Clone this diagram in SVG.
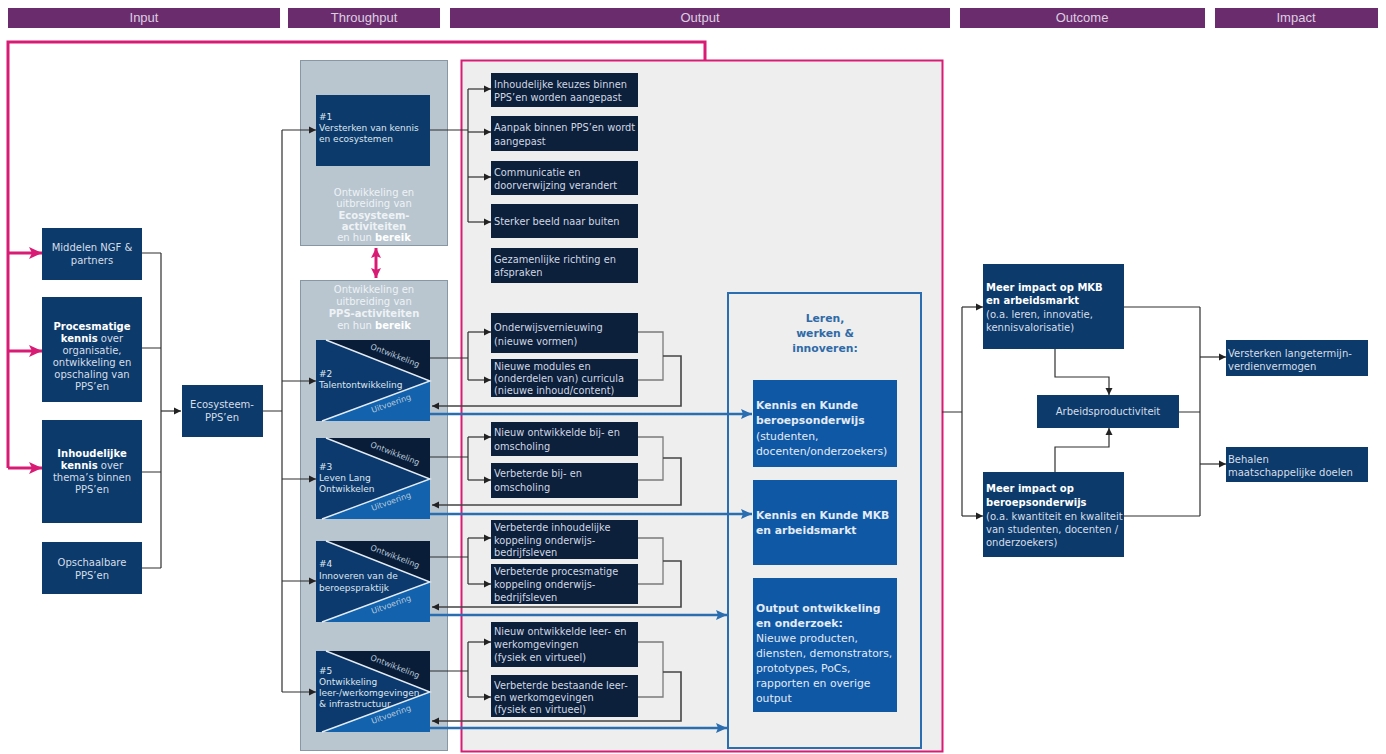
<svg xmlns="http://www.w3.org/2000/svg" width="1386" height="754" viewBox="0 0 1386 754">
<defs>
<marker id="ah" markerUnits="userSpaceOnUse" markerWidth="8" markerHeight="8" refX="7" refY="4" orient="auto"><path d="M0,0.5 L7,4 L0,7.5 z" fill="#222"/></marker>
<marker id="ahp" markerUnits="userSpaceOnUse" markerWidth="14" markerHeight="12" refX="13" refY="6" orient="auto-start-reverse"><path d="M0,0 L13,6 L0,12 L3,6 z" fill="#d81b74"/></marker>
<marker id="ahp2" markerUnits="userSpaceOnUse" markerWidth="11" markerHeight="10" refX="10" refY="5" orient="auto-start-reverse"><path d="M0,0 L10,5 L0,10 L2,5 z" fill="#d81b74"/></marker>
<marker id="ahb" markerUnits="userSpaceOnUse" markerWidth="12" markerHeight="10" refX="11" refY="5" orient="auto"><path d="M0,0 L11,5 L0,10 L2,5 z" fill="#2a6db0"/></marker>
<style>
.hdr{fill:#6b2c6e}
.htx{font-family:"Liberation Sans",Arial,sans-serif;font-size:13px;fill:#dccfe0;text-anchor:middle}
.t{font-family:"DejaVu Sans",Verdana,sans-serif;font-size:10px}
.c{text-anchor:middle}
.b{font-weight:bold;fill:#ffffff}
.lt{fill:#d6dee8}
.navy{fill:#0c3a6b}
.dk{fill:#0c1f3b}
.bl{fill:#0f58a6}
.gray{fill:#b9c6d0;stroke:#8797a3;stroke-width:1}
.ln{fill:none;stroke:#2f2f2f;stroke-width:1.2}
.br{fill:none;stroke:#7a7a7a;stroke-width:1.3}
.lp{fill:none;stroke:#444;stroke-width:1.6}
.pk{fill:none;stroke:#d81b74;stroke-width:3}
.bln{fill:none;stroke:#2a6db0;stroke-width:2.5}
.tri-d{fill:#0a1d38}
.tri-m{fill:#0c3a6e}
.tri-b{fill:#1262ad}
.diag{fill:none;stroke:#e4edf5;stroke-width:1.4}
.hs{font-family:"DejaVu Sans",Verdana,sans-serif;font-size:9px;fill:#dfe7ef}
.rot{font-family:"DejaVu Sans",Verdana,sans-serif;font-size:8px;fill:#b9c9d9;text-anchor:middle}
.gt{font-family:"DejaVu Sans",Verdana,sans-serif;font-size:10px;fill:#eef2f5;text-anchor:middle}
.ot{font-family:"DejaVu Sans",Verdana,sans-serif;font-size:9.8px;fill:#d0d8e2}
.lr{font-family:"DejaVu Sans",Verdana,sans-serif;font-size:10.8px;fill:#e3ebf4}
</style>
</defs>
<rect width="1386" height="754" fill="#ffffff"/>

<g id="headers">
<rect class="hdr" x="8" y="8" width="272" height="20"/>
<text class="htx" x="144" y="22">Input</text>
<rect class="hdr" x="288" y="8" width="152" height="20"/>
<text class="htx" x="364" y="22">Throughput</text>
<rect class="hdr" x="450" y="8" width="500" height="20"/>
<text class="htx" x="700" y="22">Output</text>
<rect class="hdr" x="960" y="8" width="245" height="20"/>
<text class="htx" x="1082" y="22">Outcome</text>
<rect class="hdr" x="1215" y="8" width="163" height="20"/>
<text class="htx" x="1296" y="22">Impact</text>
</g>

<g id="containers">
<rect x="461.5" y="60.5" width="481" height="691" fill="#eeeeee" stroke="#d81b74" stroke-width="2"/>
<rect class="gray" x="300.5" y="60.5" width="147" height="185"/>
<rect class="gray" x="300.5" y="280.5" width="147" height="470"/>
<rect x="728" y="293" width="193" height="455" fill="none" stroke="#2a6db0" stroke-width="2"/>
</g>

<g id="connectors">
<path class="pk" d="M705,60 V42 H8 V468"/>
<path class="pk" d="M8,253 H42" marker-end="url(#ahp)"/>
<path class="pk" d="M8,351 H42" marker-end="url(#ahp)"/>
<path class="pk" d="M8,468 H42" marker-end="url(#ahp)"/>
<path class="pk" d="M376,248 V278" stroke-width="2.5" marker-start="url(#ahp2)" marker-end="url(#ahp2)"/>

<path class="ln" d="M142,253 H161 M142,348 H161 M142,472 H161 M142,568 H161 M161,253 V568"/>
<path class="ln" d="M161,411 H181" marker-end="url(#ah)"/>
<path class="ln" d="M263,411 H282 M282,130 V692"/>
<path class="ln" d="M282,130 H316" marker-end="url(#ah)"/>
<path class="ln" d="M282,381 H316" marker-end="url(#ah)"/>
<path class="ln" d="M282,479 H316" marker-end="url(#ah)"/>
<path class="ln" d="M282,581 H316" marker-end="url(#ah)"/>
<path class="ln" d="M282,692 H316" marker-end="url(#ah)"/>

<path class="ln" d="M430,130 H468 M468,89 V222"/>
<path class="ln" d="M468,89 H491" marker-end="url(#ah)"/>
<path class="ln" d="M468,132 H491" marker-end="url(#ah)"/>
<path class="ln" d="M468,177 H491" marker-end="url(#ah)"/>
<path class="ln" d="M468,222 H491" marker-end="url(#ah)"/>

<path class="ln" d="M430,358 H468 M468,332 V380"/>
<path class="ln" d="M468,332 H491" marker-end="url(#ah)"/>
<path class="ln" d="M468,380 H491" marker-end="url(#ah)"/>
<path class="br" d="M638,332 H663 V380 H638"/>
<path class="lp" d="M663,356 H681 V406 H432" marker-end="url(#ah)"/>

<path class="ln" d="M430,457 H468 M468,437 V480"/>
<path class="ln" d="M468,437 H491" marker-end="url(#ah)"/>
<path class="ln" d="M468,480 H491" marker-end="url(#ah)"/>
<path class="br" d="M638,437 H663 V480 H638"/>
<path class="lp" d="M663,458 H681 V505 H432" marker-end="url(#ah)"/>

<path class="ln" d="M430,557 H468 M468,538 V584"/>
<path class="ln" d="M468,538 H491" marker-end="url(#ah)"/>
<path class="ln" d="M468,584 H491" marker-end="url(#ah)"/>
<path class="br" d="M638,538 H663 V584 H638"/>
<path class="lp" d="M663,561 H681 V607 H432" marker-end="url(#ah)"/>

<path class="ln" d="M430,671 H468 M468,642 V697"/>
<path class="ln" d="M468,642 H491" marker-end="url(#ah)"/>
<path class="ln" d="M468,697 H491" marker-end="url(#ah)"/>
<path class="br" d="M638,642 H663 V697 H638"/>
<path class="lp" d="M663,672 H681 V721 H432" marker-end="url(#ah)"/>

<path class="bln" d="M430,414 H752" marker-end="url(#ahb)"/>
<path class="bln" d="M430,514 H752" marker-end="url(#ahb)"/>
<path class="bln" d="M430,615 H727" marker-end="url(#ahb)"/>
<path class="bln" d="M430,728 H727" marker-end="url(#ahb)"/>

<path class="ln" d="M942,412 H962 M962,307 V516"/>
<path class="ln" d="M962,307 H983" marker-end="url(#ah)"/>
<path class="ln" d="M962,516 H983" marker-end="url(#ah)"/>
<path class="ln" d="M1055,349 V377 H1109 V395" marker-end="url(#ah)"/>
<path class="ln" d="M1055,472 V447 H1109 V428" marker-end="url(#ah)"/>
<path class="ln" d="M1124,307 H1200 M1179,412 H1200 M1124,516 H1200 M1200,307 V516"/>
<path class="ln" d="M1200,357 H1226" marker-end="url(#ah)"/>
<path class="ln" d="M1200,464 H1226" marker-end="url(#ah)"/>
</g>

<g id="in-middelen">
<rect class="navy" x="42" y="228" width="100" height="52"/>
<text class="t c lt" x="92" y="251">Middelen NGF &amp;</text>
<text class="t c lt" x="92" y="264">partners</text>
</g>
<g id="in-procesmatige">
<rect class="navy" x="42" y="297" width="100" height="105"/>
<text class="t c b" x="92" y="330">Procesmatige</text>
<text class="t c lt" x="92" y="342"><tspan class="b">kennis</tspan> over</text>
<text class="t c lt" x="92" y="354">organisatie,</text>
<text class="t c lt" x="92" y="366">ontwikkeling en</text>
<text class="t c lt" x="92" y="378">opschaling van</text>
<text class="t c lt" x="92" y="390">PPS’en</text>
</g>
<g id="in-inhoudelijke">
<rect class="navy" x="42" y="420" width="100" height="103"/>
<text class="t c b" x="92" y="457">Inhoudelijke</text>
<text class="t c lt" x="92" y="469"><tspan class="b">kennis</tspan> over</text>
<text class="t c lt" x="92" y="481">thema’s binnen</text>
<text class="t c lt" x="92" y="493">PPS’en</text>
</g>
<g id="in-opschaalbare">
<rect class="navy" x="42" y="542" width="100" height="52"/>
<text class="t c lt" x="92" y="566">Opschaalbare</text>
<text class="t c lt" x="92" y="579">PPS’en</text>
</g>
<g id="ecosysteem">
<rect class="navy" x="182" y="385" width="81" height="52"/>
<text class="t c lt" x="222" y="408">Ecosysteem-</text>
<text class="t c lt" x="222" y="421">PPS’en</text>
</g>

<g id="tp-1">
<rect class="navy" x="316" y="95" width="114" height="71"/>
<text class="hs" x="319" y="120">#1</text>
<text class="hs" x="319" y="131">Versterken van kennis</text>
<text class="hs" x="319" y="142">en ecosystemen</text>
<text class="gt" x="374" y="196">Ontwikkeling en</text>
<text class="gt" x="374" y="207">uitbreiding van</text>
<text class="gt b" x="374" y="219">Ecosysteem-</text>
<text class="gt b" x="374" y="230">activiteiten</text>
<text class="gt" x="374" y="241">en hun <tspan class="b">bereik</tspan></text>
</g>
<g id="tp-pps-label">
<text class="gt" x="374" y="293">Ontwikkeling en</text>
<text class="gt" x="374" y="305">uitbreiding van</text>
<text class="gt b" x="374" y="317">PPS-activiteiten</text>
<text class="gt" x="374" y="329">en hun <tspan class="b">bereik</tspan></text>
</g>

<g id="tp-2" transform="translate(0,340)">
<rect class="tri-m" x="316" y="0" width="114" height="81"/>
<polygon class="tri-d" points="326,0 430,0 430,41"/>
<polygon class="tri-b" points="430,41 430,81 322,81"/>
<polyline class="diag" points="326,0 430,41 322,81"/>
<text class="hs" x="319" y="37">#2</text>
<text class="hs" x="319" y="48">Talentontwikkeling</text>
<text class="rot" transform="translate(394,18) rotate(21)">Ontwikkeling</text>
<text class="rot" transform="translate(392,66) rotate(-20)">Uitvoering</text>
</g>
<g id="tp-3" transform="translate(0,438)">
<rect class="tri-m" x="316" y="0" width="114" height="81"/>
<polygon class="tri-d" points="326,0 430,0 430,41"/>
<polygon class="tri-b" points="430,41 430,81 322,81"/>
<polyline class="diag" points="326,0 430,41 322,81"/>
<text class="hs" x="319" y="32">#3</text>
<text class="hs" x="319" y="43">Leven Lang</text>
<text class="hs" x="319" y="54">Ontwikkelen</text>
<text class="rot" transform="translate(394,18) rotate(21)">Ontwikkeling</text>
<text class="rot" transform="translate(392,66) rotate(-20)">Uitvoering</text>
</g>
<g id="tp-4" transform="translate(0,541)">
<rect class="tri-m" x="316" y="0" width="114" height="81"/>
<polygon class="tri-d" points="326,0 430,0 430,41"/>
<polygon class="tri-b" points="430,41 430,81 322,81"/>
<polyline class="diag" points="326,0 430,41 322,81"/>
<text class="hs" x="319" y="26">#4</text>
<text class="hs" x="319" y="38">Innoveren van de</text>
<text class="hs" x="319" y="50">beroepspraktijk</text>
<text class="rot" transform="translate(394,18) rotate(21)">Ontwikkeling</text>
<text class="rot" transform="translate(392,66) rotate(-20)">Uitvoering</text>
</g>
<g id="tp-5" transform="translate(0,651)">
<rect class="tri-m" x="316" y="0" width="114" height="81"/>
<polygon class="tri-d" points="326,0 430,0 430,41"/>
<polygon class="tri-b" points="430,41 430,81 322,81"/>
<polyline class="diag" points="326,0 430,41 322,81"/>
<text class="hs" x="319" y="23">#5</text>
<text class="hs" x="319" y="34">Ontwikkeling</text>
<text class="hs" x="319" y="45">leer-/werkomgevingen</text>
<text class="hs" x="319" y="56">&amp; infrastructuur</text>
<text class="rot" transform="translate(394,18) rotate(21)">Ontwikkeling</text>
<text class="rot" transform="translate(392,66) rotate(-20)">Uitvoering</text>
</g>

<g id="out-1">
<rect class="dk" x="491" y="73" width="147" height="34"/>
<text class="ot" x="494" y="88">Inhoudelijke keuzes binnen</text>
<text class="ot" x="494" y="101">PPS’en worden aangepast</text>
</g>
<g id="out-2">
<rect class="dk" x="491" y="116" width="147" height="35"/>
<text class="ot" x="494" y="131">Aanpak binnen PPS’en wordt</text>
<text class="ot" x="494" y="145">aangepast</text>
</g>
<g id="out-3">
<rect class="dk" x="491" y="161" width="147" height="34"/>
<text class="ot" x="494" y="176">Communicatie en</text>
<text class="ot" x="494" y="189">doorverwijzing verandert</text>
</g>
<g id="out-4">
<rect class="dk" x="491" y="204" width="147" height="34"/>
<text class="ot" x="494" y="225">Sterker beeld naar buiten</text>
</g>
<g id="out-5">
<rect class="dk" x="491" y="248" width="147" height="35"/>
<text class="ot" x="494" y="263">Gezamenlijke richting en</text>
<text class="ot" x="494" y="276">afspraken</text>
</g>
<g id="out-2a">
<rect class="dk" x="491" y="313" width="147" height="40"/>
<text class="ot" x="494" y="331">Onderwijsvernieuwing</text>
<text class="ot" x="494" y="345">(nieuwe vormen)</text>
</g>
<g id="out-2b">
<rect class="dk" x="491" y="359" width="147" height="38"/>
<text class="ot" x="494" y="370">Nieuwe modules en</text>
<text class="ot" x="494" y="382">(onderdelen van) curricula</text>
<text class="ot" x="494" y="394">(nieuwe inhoud/content)</text>
</g>
<g id="out-3a">
<rect class="dk" x="491" y="422" width="147" height="34"/>
<text class="ot" x="494" y="436">Nieuw ontwikkelde bij- en</text>
<text class="ot" x="494" y="450">omscholing</text>
</g>
<g id="out-3b">
<rect class="dk" x="491" y="463" width="147" height="35"/>
<text class="ot" x="494" y="477">Verbeterde bij- en</text>
<text class="ot" x="494" y="491">omscholing</text>
</g>
<g id="out-4a">
<rect class="dk" x="491" y="520" width="147" height="39"/>
<text class="ot" x="494" y="531">Verbeterde inhoudelijke</text>
<text class="ot" x="494" y="544">koppeling onderwijs-</text>
<text class="ot" x="494" y="556">bedrijfsleven</text>
</g>
<g id="out-4b">
<rect class="dk" x="491" y="564" width="147" height="40"/>
<text class="ot" x="494" y="575">Verbeterde procesmatige</text>
<text class="ot" x="494" y="588">koppeling onderwijs-</text>
<text class="ot" x="494" y="601">bedrijfsleven</text>
</g>
<g id="out-5a">
<rect class="dk" x="491" y="622" width="147" height="45"/>
<text class="ot" x="494" y="635">Nieuw ontwikkelde leer- en</text>
<text class="ot" x="494" y="648">werkomgevingen</text>
<text class="ot" x="494" y="661">(fysiek en virtueel)</text>
</g>
<g id="out-5b">
<rect class="dk" x="491" y="675" width="147" height="42"/>
<text class="ot" x="494" y="689">Verbeterde bestaande leer-</text>
<text class="ot" x="494" y="701">en werkomgevingen</text>
<text class="ot" x="494" y="713">(fysiek en virtueel)</text>
</g>

<g id="leren-title">
<text class="lr c" x="825" y="322" style="font-weight:bold;fill:#2e6aa7">Leren,</text>
<text class="lr c" x="825" y="337" style="font-weight:bold;fill:#2e6aa7">werken &amp;</text>
<text class="lr c" x="825" y="352" style="font-weight:bold;fill:#2e6aa7">innoveren:</text>
</g>
<g id="kk-beroeps">
<rect class="bl" x="753" y="380" width="144" height="87"/>
<text class="lr b" x="756" y="409">Kennis en Kunde</text>
<text class="lr b" x="756" y="424">beroepsonderwijs</text>
<text class="lr" x="756" y="440">(studenten,</text>
<text class="lr" x="756" y="455">docenten/onderzoekers)</text>
</g>
<g id="kk-mkb">
<rect class="bl" x="753" y="480" width="144" height="85"/>
<text class="lr b" x="756" y="519">Kennis en Kunde MKB</text>
<text class="lr b" x="756" y="534">en arbeidsmarkt</text>
</g>
<g id="output-onderzoek">
<rect class="bl" x="753" y="578" width="144" height="134"/>
<text class="lr b" x="756" y="612">Output ontwikkeling</text>
<text class="lr b" x="756" y="627">en onderzoek:</text>
<text class="lr" x="756" y="642">Nieuwe producten,</text>
<text class="lr" x="756" y="657">diensten, demonstrators,</text>
<text class="lr" x="756" y="672">prototypes, PoCs,</text>
<text class="lr" x="756" y="687">rapporten en overige</text>
<text class="lr" x="756" y="702">output</text>
</g>

<g id="oc-mkb">
<rect class="navy" x="983" y="264" width="141" height="85"/>
<text class="t b" x="986" y="291">Meer impact op MKB</text>
<text class="t b" x="986" y="304">en arbeidsmarkt</text>
<text class="t lt" x="986" y="318">(o.a. leren, innovatie,</text>
<text class="t lt" x="986" y="331">kennisvalorisatie)</text>
</g>
<g id="oc-arbeid">
<rect class="navy" x="1037" y="395" width="142" height="33"/>
<text class="t c lt" x="1108" y="415">Arbeidsproductiviteit</text>
</g>
<g id="oc-beroeps">
<rect class="navy" x="983" y="472" width="141" height="85"/>
<text class="t b" x="986" y="492">Meer impact op</text>
<text class="t b" x="986" y="506">beroepsonderwijs</text>
<text class="t lt" x="986" y="520">(o.a. kwantiteit en kwaliteit</text>
<text class="t lt" x="986" y="533">van studenten, docenten /</text>
<text class="t lt" x="986" y="546">onderzoekers)</text>
</g>
<g id="im-verdien">
<rect class="navy" x="1226" y="340" width="142" height="36"/>
<text class="t lt" x="1228" y="357">Versterken langetermijn-</text>
<text class="t lt" x="1228" y="370">verdienvermogen</text>
</g>
<g id="im-doelen">
<rect class="navy" x="1226" y="447" width="142" height="35"/>
<text class="t lt" x="1228" y="463">Behalen</text>
<text class="t lt" x="1228" y="476">maatschappelijke doelen</text>
</g>
</svg>
